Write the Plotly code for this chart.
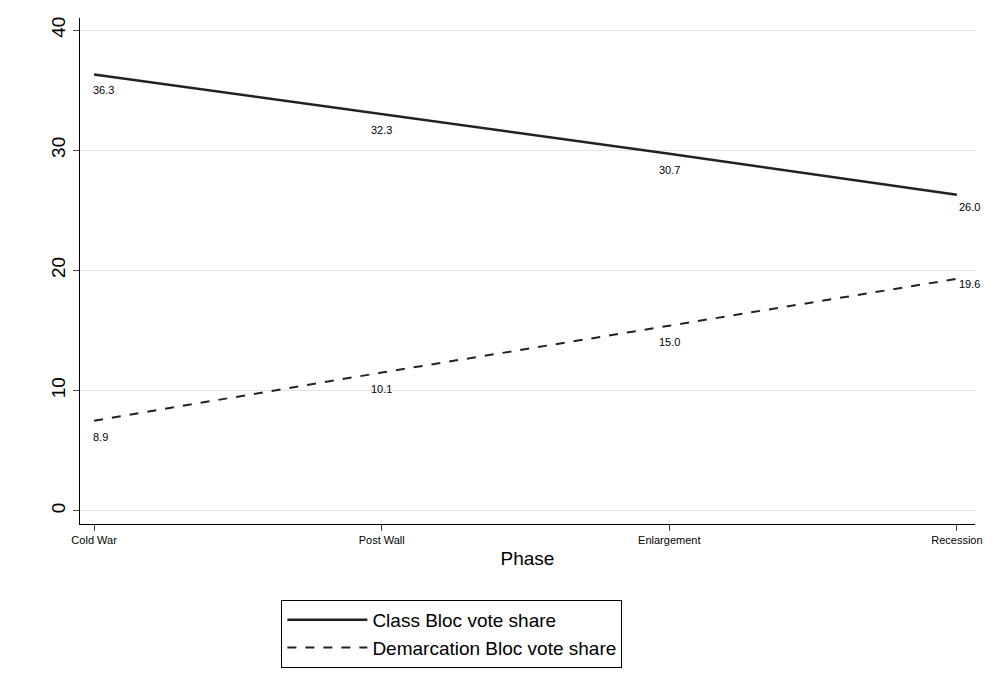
import plotly.graph_objects as go

phases = ["Cold War", "Post Wall", "Enlargement", "Recession"]
# fitted line values (as drawn) and the labelled means
class_line = [36.3, 33.0, 29.7, 26.3]
class_labels = ["36.3", "32.3", "30.7", "26.0"]
demarc_line = [7.5, 11.5, 15.4, 19.3]
demarc_labels = ["8.9", "10.1", "15.0", "19.6"]

fnt = dict(family="Liberation Sans, Arial", color="black")

fig = go.Figure()
fig.add_trace(go.Scatter(
    x=phases, y=class_line, mode="lines", name="Class Bloc vote share",
    line=dict(color="#222222", width=2.5),
))
fig.add_trace(go.Scatter(
    x=phases, y=demarc_line, mode="lines", name="Demarcation Bloc vote share",
    line=dict(color="#222222", width=2, dash="dash"),
))

# value labels placed under the points
for ys, labs, last_shift in [(class_line, class_labels, -12), (demarc_line, demarc_labels, -5)]:
    for i, (p, v, t) in enumerate(zip(phases, ys, labs)):
        fig.add_annotation(
            x=p, y=v, text=t, showarrow=False,
            xanchor="left" if i in (0, 3) else "center",
            xshift=-3 if i == 0 else 0,
            yshift=last_shift if i == 3 else -16,
            font=dict(size=11, **fnt),
        )

fig.update_layout(
    width=997, height=692,
    paper_bgcolor="white", plot_bgcolor="white",
    margin=dict(l=72, r=30, t=10, b=176),
    font=fnt,
    showlegend=True,
    xaxis=dict(
        title=dict(text="Phase", font=dict(size=19, **fnt), standoff=6),
        range=[-0.049, 3.063], showline=True, linecolor="black", ticks="outside",
        ticklen=6, tickfont=dict(size=11, **fnt), showgrid=False, zeroline=False,
        automargin=False,
    ),
    yaxis=dict(
        range=[-1.1, 41], tickvals=[0, 10, 20, 30, 40], tickangle=-90,
        showline=True, linecolor="black", ticks="outside", ticklen=6,
        tickfont=dict(size=19, **fnt), gridcolor="#e4e4e4", zeroline=False,
        automargin=False,
    ),
    legend=dict(
        x=0.225, y=-0.15, xanchor="left", yanchor="top",
        bordercolor="black", borderwidth=1, font=dict(size=19, **fnt),
        itemwidth=80, tracegroupgap=4,
    ),
)

fig.write_html("out.html")
